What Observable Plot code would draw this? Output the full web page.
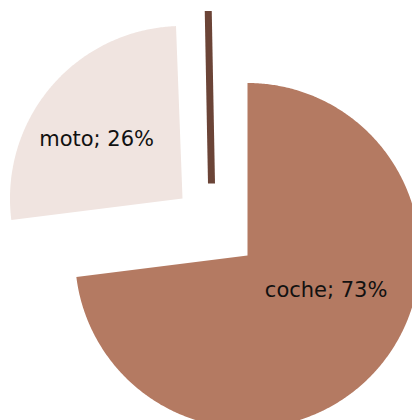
<!DOCTYPE html>
<html>
<head>
<meta charset="utf-8">
<script src="https://cdn.jsdelivr.net/npm/d3@7"></script>
<script src="https://cdn.jsdelivr.net/npm/@observablehq/plot@0.6"></script>
<style>
  html, body { margin: 0; padding: 0; background: #fff; overflow: hidden; }
  #chart svg { display: block; }
</style>
</head>
<body>
<div id="chart"></div>
<script>
// ---- data ----
const categories = ["coche", "moto", "otros"];
const values = [73, 26.4, 0.6];
const showLabel = [true, true, false];

// ---- styles / layout ----
const colors = ["#b47a62", "#f0e4e0", "#6b4437"];
const W = 412, H = 420;
const cx = 247, cy = 255, R = 172.5;
const explode = [[0, 0], [-65, -57], [-36, -72]];   // per-slice offset of the slice vertex
const labelNudge = [[1, -34], [-7, 8], [0, 0]];
const labelRadius = 0.6;
const sliverWidth = 7;   // slices thinner than this are drawn as a bar of this width

const total = d3.sum(values);
const arcs = d3.pie().sort(null)(values);

// polygon vertices for each slice, derived from the pie angles
const polys = [];
const slivers = [];
arcs.forEach(a => {
  const i = a.index;
  const ox = cx + explode[i][0], oy = cy + explode[i][1];
  const span = a.endAngle - a.startAngle;
  if (span * R < sliverWidth * 1.5) {
    const m = (a.startAngle + a.endAngle) / 2;
    slivers.push({i, x1: ox, y1: oy, x2: ox + R * Math.sin(m), y2: oy - R * Math.cos(m), color: colors[i]});
    return;
  }
  polys.push({i, x: ox, y: oy, color: colors[i]});
  const n = Math.max(2, Math.ceil(span / (Math.PI / 360)));
  for (let k = 0; k <= n; k++) {
    const t = a.startAngle + span * k / n;
    polys.push({i, x: ox + R * Math.sin(t), y: oy - R * Math.cos(t), color: colors[i]});
  }
  polys.push({i, x: ox, y: oy, color: colors[i]});
});

const labels = arcs.filter(a => showLabel[a.index]).map(a => {
  const i = a.index;
  const m = (a.startAngle + a.endAngle) / 2;
  return {
    x: cx + explode[i][0] + labelRadius * R * Math.sin(m) + labelNudge[i][0],
    y: cy + explode[i][1] - labelRadius * R * Math.cos(m) + labelNudge[i][1],
    text: `${categories[i]}; ${Math.round(values[i] / total * 100)}%`
  };
});

const chart = Plot.plot({
  width: W,
  height: H,
  margin: 0,
  x: {domain: [0, W], range: [0, W], axis: null},
  y: {domain: [0, H], range: [0, H], axis: null},
  color: {type: "identity"},
  style: {background: "#fff", overflow: "hidden"},
  marks: [
    Plot.line(polys, {x: "x", y: "y", z: "i", fill: "color", stroke: "none"}),
    Plot.link(slivers, {x1: "x1", y1: "y1", x2: "x2", y2: "y2", stroke: "color",
      strokeWidth: sliverWidth, strokeLinecap: "butt", strokeOpacity: 1}),
    Plot.text(labels, {x: "x", y: "y", text: "text", fill: "#111", fontSize: 21,
      fontFamily: "DejaVu Sans", textAnchor: "middle", lineAnchor: "middle"})
  ]
});
document.getElementById("chart").appendChild(chart);
</script>
</body>
</html>
